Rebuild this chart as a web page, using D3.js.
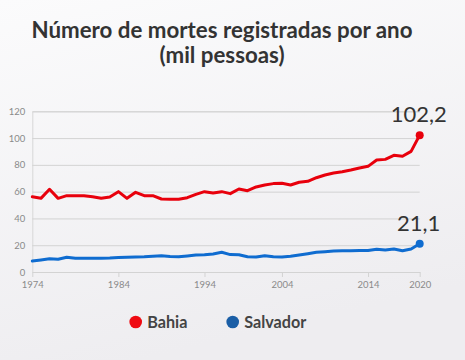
<!DOCTYPE html>
<html><head><meta charset="utf-8">
<script src="https://cdn.jsdelivr.net/npm/d3@7"></script>
<style>
html,body{margin:0;padding:0;}
body{width:465px;height:360px;overflow:hidden;}
svg{display:block;font-family:Lato,"Noto Sans",sans-serif;}
</style></head>
<body>
<svg id="c" width="465" height="360"></svg>
<script>
// Data (one year absent between 1994 and 2004 in the source series)
const years = [1974,1975,1976,1977,1978,1979,1980,1981,1982,1983,1984,1985,1986,1987,1988,1989,1990,1991,1992,1993,1994,1995,1996,1997,1998,2000,2001,2002,2003,2004,2005,2006,2007,2008,2009,2010,2011,2012,2013,2014,2015,2016,2017,2018,2019,2020];
const bahia = [56.2,55,61.8,55,57,57,57,56.2,55,56,60,55,59.5,57,57,54.5,54.3,54.3,55.5,58,60,59,60,58.5,62,60.7,63.5,65,66,66.2,65,67,67.7,70.4,72.4,73.9,74.9,76.2,77.7,78.9,83.6,84.1,87.1,86.4,90.1,102.2];
const salvador = [8.2,9,9.9,9.5,11,10.2,10.2,10.2,10.2,10.4,10.8,11,11.2,11.4,11.8,12.2,11.6,11.4,12,12.7,12.9,13.5,14.7,13,12.9,11.4,11.2,12.2,11.4,11.2,11.7,12.7,13.7,14.7,15.2,15.7,15.9,15.9,16,16,17,16.4,17.2,15.9,17.2,21.1];
const yTicks = [0,20,40,60,80,100,120];
const xTickYears = [1974,1984,1994,2004,2014,2020];
const seriesNames = ["Bahia","Salvador"];
const titleLines = ["Número de mortes registradas por ano","(mil pessoas)"];

const colors = {Bahia:"#e8000c", Salvador:"#0f6cd0"};
const legendColors = {Bahia:"#ef0a12", Salvador:"#1a5ea6"};

const svg = d3.select("#c");
const defs = svg.append("defs");
const g = defs.append("linearGradient").attr("id","bg").attr("x1",0).attr("y1",0).attr("x2",0.3).attr("y2",1);
g.append("stop").attr("offset","0%").attr("stop-color","#fbfbfc");
g.append("stop").attr("offset","100%").attr("stop-color","#eeedf0");
svg.append("rect").attr("width",465).attr("height",360).attr("fill","url(#bg)");

const x = d3.scalePoint().domain(years).range([32.3, 419.7]);
const y = d3.scaleLinear().domain([0,120]).range([272, 111.3]);

// title
svg.append("g").selectAll("text").data(titleLines).join("text")
  .attr("x",222).attr("y",(d,i)=>38 + i*25)
  .attr("text-anchor","middle")
  .attr("font-size",22.3).attr("font-weight","bold").attr("fill","#333")
  .text(d=>d);

// y grid + labels
const ya = svg.append("g").attr("transform","translate(32.3,0)")
  .call(d3.axisLeft(y).tickValues(yTicks).tickSize(-(419.7-32.3)).tickPadding(7));
ya.select(".domain").attr("stroke","#d8d8d8");
ya.selectAll(".tick line").attr("stroke","#d3d3d3");
ya.selectAll(".tick").filter(d=>d===0).select("line").remove();
ya.selectAll("text").attr("fill","#8a8a8a").attr("font-size",9.5).attr("font-family","Lato");

// x axis
const xa = svg.append("g").attr("transform","translate(0,272)")
  .call(d3.axisBottom(x).tickValues(xTickYears).tickSize(5).tickSizeOuter(0).tickPadding(4));
xa.select(".domain").attr("stroke","#d3d3d3");
xa.selectAll(".tick line").attr("stroke","#d3d3d3");
xa.selectAll("text").attr("fill","#8a8a8a").attr("font-size",9.5).attr("font-family","Lato");

const line = d3.line().x((d,i)=>x(years[i])).y(d=>y(d));
const data = {Bahia:bahia, Salvador:salvador};
const labelFmt = v => String(v).replace(".",",");

seriesNames.forEach(name=>{
  const vals = data[name];
  svg.append("path").datum(vals).attr("d",line)
    .attr("fill","none").attr("stroke",colors[name]).attr("stroke-width",3)
    .attr("stroke-linejoin","round").attr("stroke-linecap","round");
  const lx = x(years[years.length-1]), lv = vals[vals.length-1];
  svg.append("circle").attr("cx",lx).attr("cy",y(lv)).attr("r",4).attr("fill",colors[name]);
  svg.append("text").attr("x",lx-1).attr("y",y(lv)-13)
    .attr("text-anchor","middle").attr("font-size",22).attr("fill","#333")
    .text(labelFmt(lv));
});

// legend
const legendX = {Bahia:135.7, Salvador:232.7};
seriesNames.forEach(name=>{
  svg.append("circle").attr("cx",legendX[name]).attr("cy",322).attr("r",6.3).attr("fill",legendColors[name]);
  svg.append("text").attr("x",legendX[name]+11.5).attr("y",327.5)
    .attr("font-size",16.2).attr("font-weight","bold").attr("fill","#444").text(name);
});
</script>
</body></html>
